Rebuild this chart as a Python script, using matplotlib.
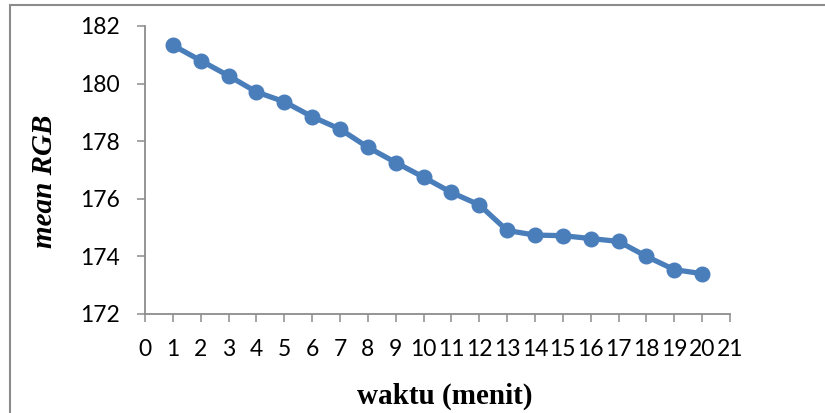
import matplotlib
matplotlib.use("Agg")
import matplotlib.pyplot as plt
from matplotlib.patches import Rectangle

# mean RGB value measured each minute
waktu = [1, 2, 3, 4, 5, 6, 7, 8, 9, 10, 11, 12, 13, 14, 15, 16, 17, 18, 19, 20]
mean_rgb = [181.33, 180.80, 180.27, 179.71, 179.37, 178.85, 178.42, 177.79,
            177.26, 176.75, 176.22, 175.79, 174.90, 174.74, 174.72, 174.62,
            174.52, 174.00, 173.54, 173.40]
x_ticks = list(range(0, 22))
y_ticks = [172, 174, 176, 178, 180, 182]

W, H = 825, 413
fig = plt.figure(figsize=(W / 100, H / 100), dpi=100)
fig.patch.set_facecolor("white")

# chart-area frame
fig.patches.append(Rectangle((10 / W, -0.05), 1.1, 1 - 5 / H + 0.05,
                             transform=fig.transFigure, fill=False,
                             edgecolor="#8c8c8c", linewidth=1.5))

ax = fig.add_axes([145 / W, 1 - 314 / H, 585 / W, 288 / H])
ax.set_facecolor("none")

line_color = "#4a7ebb"
ax.plot(waktu, mean_rgb, color=line_color, linewidth=3.8, marker="o",
        markersize=10.5, markerfacecolor=line_color, markeredgecolor=line_color,
        solid_capstyle="round", clip_on=False)

ax.set_xlim(0, 21)
ax.set_ylim(172, 182)
ax.set_xticks(x_ticks)
ax.set_yticks(y_ticks)

tick_font = {"family": "Lato", "size": 16.5}
ax.set_xticklabels([str(v) for v in x_ticks], fontdict=tick_font)
ax.set_yticklabels([str(v) for v in y_ticks], fontdict=tick_font)

for side in ("top", "right"):
    ax.spines[side].set_visible(False)
for side in ("left", "bottom"):
    ax.spines[side].set_color("#8c8c8c")
    ax.spines[side].set_linewidth(1.3)

ax.tick_params(axis="both", direction="out", length=6, width=1.1,
               color="#8c8c8c", labelcolor="black", pad=12)

fig.text(45 / W, 1 - 181 / H, "mean RGB", rotation=90, ha="center",
         va="center", family="Liberation Serif", weight="bold",
         style="italic", size=21)
fig.text(445 / W, 1 - 396 / H, "waktu (menit)", ha="center", va="center",
         family="Liberation Serif", weight="bold", size=21)

fig.savefig("out.png", dpi=100)
